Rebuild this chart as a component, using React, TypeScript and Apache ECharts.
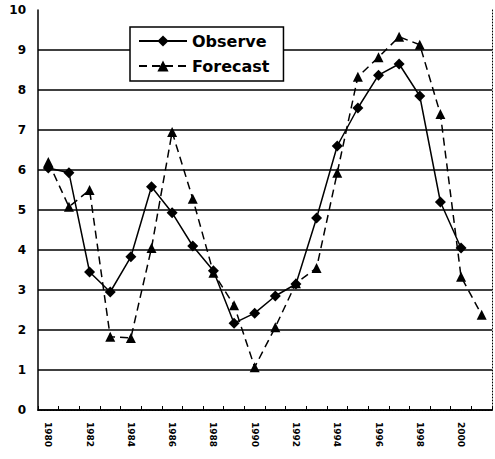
import React, { useEffect, useRef } from "react";
import * as echarts from "echarts";

const years = ["1980","1981","1982","1983","1984","1985","1986","1987","1988","1989","1990","1991","1992","1993","1994","1995","1996","1997","1998","1999","2000","2001"];
const observe = [6.05, 5.93, 3.45, 2.95, 3.83, 5.58, 4.93, 4.1, 3.48, 2.17, 2.42, 2.85, 3.15, 4.8, 6.6, 7.55, 8.37, 8.65, 7.85, 5.2, 4.05, null];
const forecast = [6.2, 5.08, 5.5, 1.83, 1.8, 4.05, 6.95, 5.28, 3.43, 2.62, 1.07, 2.07, 3.17, 3.55, 5.93, 8.33, 8.82, 9.33, 9.13, 7.4, 3.33, 2.38];

const FONT = "DejaVu Sans";

export default function App() {
  const ref = useRef<HTMLDivElement>(null);
  useEffect(() => {
    document.body.style.margin = "0";
    const chart = echarts.init(ref.current!, null, { renderer: "svg" });
    chart.setOption({
      animation: false,
      backgroundColor: "#fff",
      grid: { left: 38, right: 3, top: 10, bottom: 49 },
      legend: {
        orient: "vertical",
        left: 130,
        top: 27,
        padding: [6, 14, 7, 8],
        itemGap: 9,
        itemWidth: 48,
        itemHeight: 14,
        backgroundColor: "#fff",
        borderColor: "#000",
        borderWidth: 1.5,
        textStyle: { fontFamily: FONT, fontWeight: "bold", fontSize: 16, color: "#000" },
        data: ["Observe", "Forecast"],
      },
      xAxis: [
        {
          type: "category",
          data: years,
          boundaryGap: true,
          axisLine: { lineStyle: { color: "#000", width: 1.5 } },
          axisTick: { show: true, inside: true, length: 4, interval: 0, lineStyle: { color: "#000" } },
          axisLabel: {
            interval: 1,
            rotate: -90,
            margin: 12,
            fontFamily: FONT,
            fontWeight: "bold",
            fontSize: 9,
            color: "#000",
          },
          splitLine: { show: false },
        },
        {
          type: "category",
          data: years,
          position: "top",
          axisLine: { show: true, lineStyle: { color: "#000", type: [1, 2], width: 1 } },
          axisTick: { show: false },
          axisLabel: { show: false },
          splitLine: { show: false },
        },
      ],
      yAxis: [
        {
          type: "value",
          min: 0,
          max: 10,
          interval: 1,
          axisLine: { show: true, lineStyle: { color: "#000", width: 1.5 } },
          axisTick: { show: false },
          axisLabel: { margin: 12, fontFamily: FONT, fontWeight: "bold", fontSize: 12, color: "#000" },
          splitLine: { show: true, showMaxLine: false, lineStyle: { color: "#000", width: 1.5 } },
        },
        {
          type: "value",
          min: 0,
          max: 10,
          interval: 1,
          position: "right",
          axisLine: { show: true, lineStyle: { color: "#000", type: [1, 2], width: 1 } },
          axisTick: { show: false },
          axisLabel: { show: false },
          splitLine: { show: false },
        },
      ],
      series: [
        {
          name: "Observe",
          type: "line",
          data: observe,
          symbol: "diamond",
          symbolSize: 11,
          itemStyle: { color: "#000" },
          lineStyle: { color: "#000", width: 1.5 },
          z: 3,
        },
        {
          name: "Forecast",
          type: "line",
          data: forecast,
          symbol: "triangle",
          symbolSize: 10,
          itemStyle: { color: "#000" },
          lineStyle: { color: "#000", width: 1.5, type: [8, 5] },
          z: 3,
        },
      ],
    });
    return () => chart.dispose();
  }, []);
  return <div ref={ref} style={{ position: "absolute", left: 0, top: 0, width: 495, height: 459 }} />;
}
